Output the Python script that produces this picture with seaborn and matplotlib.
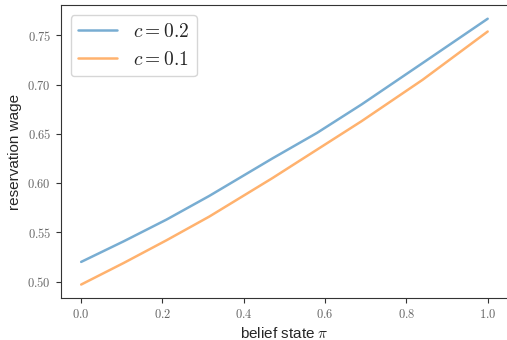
import numpy as np
import pandas as pd
import matplotlib
matplotlib.use("Agg")
import matplotlib.pyplot as plt
import matplotlib.ticker as mticker
import seaborn as sns

# Data
pi_grid = [0.0, 0.105, 0.21, 0.315, 0.47, 0.58, 0.69, 0.84, 1.0]
wage_c02 = [0.520, 0.541, 0.563, 0.587, 0.625, 0.651, 0.680, 0.722, 0.767]
wage_c01 = [0.497, 0.519, 0.542, 0.566, 0.605, 0.634, 0.663, 0.705, 0.754]
labels = [r"$c=0.2$", r"$c=0.1$"]

df = pd.DataFrame({
    "pi": pi_grid * 2,
    "wage": wage_c02 + wage_c01,
    "series": [labels[0]] * len(pi_grid) + [labels[1]] * len(pi_grid),
})

sns.set_style("ticks")
plt.rcParams["font.family"] = ["Liberation Sans", "DejaVu Sans"]
plt.rcParams["mathtext.fontset"] = "cm"

fig, ax = plt.subplots(figsize=(5.07, 3.40), dpi=100)
sns.lineplot(data=df, x="pi", y="wage", hue="series",
             palette=["#1f77b4", "#ff7f0e"], alpha=0.6, linewidth=1.8, ax=ax)

ax.set_xlabel(r"belief state $\pi$", fontsize=11)
ax.set_ylabel("reservation wage", fontsize=11)
ax.xaxis.set_major_locator(mticker.MultipleLocator(0.2))
ax.yaxis.set_major_locator(mticker.MultipleLocator(0.05))
ax.xaxis.set_major_formatter(mticker.FuncFormatter(lambda v, p: f"${v:.1f}$"))
ax.yaxis.set_major_formatter(mticker.FuncFormatter(lambda v, p: f"${v:.2f}$"))
ax.tick_params(labelsize=9, color="#333333", labelcolor="#666666")
for s in ax.spines.values():
    s.set_color("#333333")

ax.legend(title=None, fontsize=14, loc="upper left")
fig.subplots_adjust(left=0.12, right=1.002, top=0.984, bottom=0.124)
fig.savefig("out.png", dpi=100)
